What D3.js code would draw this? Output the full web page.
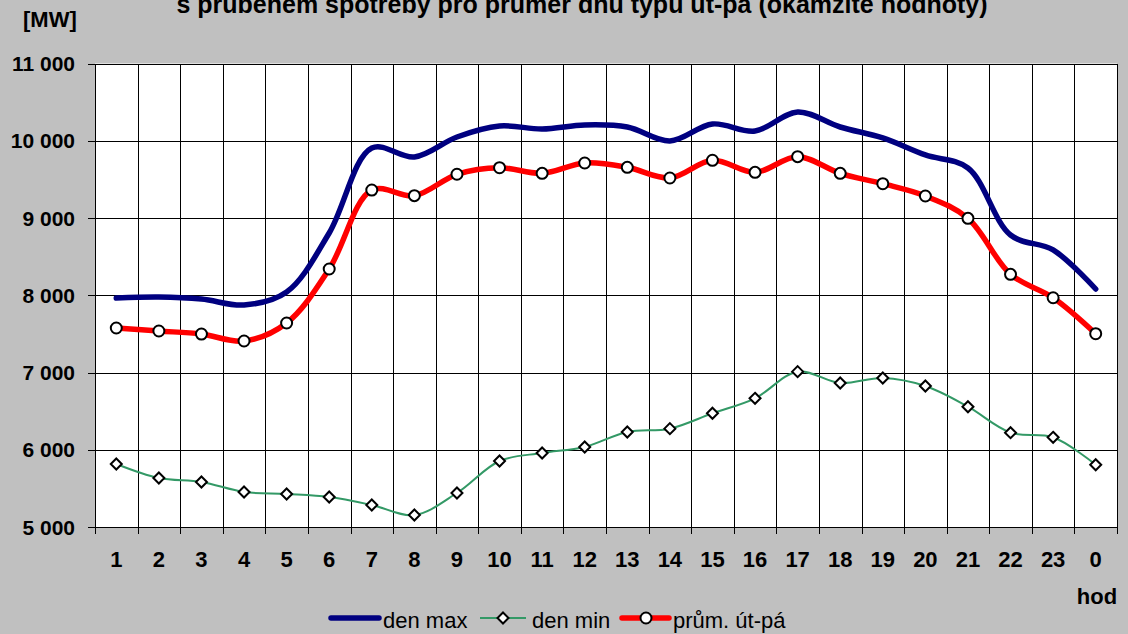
<!DOCTYPE html>
<html><head><meta charset="utf-8">
<script src="https://cdn.jsdelivr.net/npm/d3@7"></script>
<style>
html,body{margin:0;padding:0;background:#C0C0C0;}
svg{display:block;font-family:"Liberation Sans",Arial,sans-serif;}
</style></head>
<body>
<svg id="chart" width="1128" height="634"></svg>
<script>
const hours = ["1","2","3","4","5","6","7","8","9","10","11","12","13","14","15","16","17","18","19","20","21","22","23","0"];
const denMax = [7964,7977,7951,7874,8042,8806,9906,9790,10049,10191,10152,10204,10178,9997,10217,10126,10372,10178,10036,9816,9647,8780,8586,8081];
const denMin = [5816,5634,5583,5453,5427,5388,5285,5155,5440,5854,5958,6036,6230,6273,6472,6666,7011,6864,6929,6825,6557,6221,6161,5806];
const prumer = [7576,7537,7498,7408,7641,8340,9362,9289,9566,9651,9578,9712,9656,9518,9747,9591,9794,9578,9444,9285,8996,8271,7968,7502];
const yTicks = [5000,6000,7000,8000,9000,10000,11000];
const titleText = "s  průběhem spotřeby pro průměr dnů typu út-pá (okamžité hodnoty)";
const unitText = "[MW]";
const xUnitText = "hod";
const legendNames = ["den max","den min","prům. út-pá"];

const svg = d3.select("#chart");
const L = 95, R = 1117, T = 63.5, B = 527;
const x = d3.scaleBand().domain(hours).range([L, R]).padding(0);
const y = d3.scaleLinear().domain([5000, 11000]).range([B, T]);
const cx = h => x(h) + x.bandwidth() / 2;
const fmt = v => d3.format(",")(v).replace(/,/g, " ");

// plot area
svg.append("rect").attr("x", L).attr("y", T).attr("width", R - L).attr("height", B - T).attr("fill", "#fff");

// grid
const g = svg.append("g").attr("shape-rendering", "crispEdges");
g.selectAll("line.hg").data(yTicks).enter().append("line")
  .attr("x1", L).attr("x2", R).attr("y1", d => Math.round(y(d)) + 0.5).attr("y2", d => Math.round(y(d)) + 0.5)
  .attr("stroke", "#000").attr("stroke-width", 1);
g.selectAll("line.vg").data(hours.slice(1)).enter().append("line")
  .attr("x1", d => Math.round(x(d)) + 0.5).attr("x2", d => Math.round(x(d)) + 0.5)
  .attr("y1", T).attr("y2", B + 7)
  .attr("stroke", "#000").attr("stroke-width", 1);
// frame
svg.append("rect").attr("x", L + 0.5).attr("y", Math.round(T) + 0.5).attr("width", R - L).attr("height", Math.round(B) - Math.round(T))
  .attr("fill", "none").attr("stroke", "#000").attr("stroke-width", 1).attr("shape-rendering", "crispEdges");
// y ticks
g.selectAll("line.yt").data(yTicks).enter().append("line")
  .attr("x1", L - 7).attr("x2", L).attr("y1", d => Math.round(y(d)) + 0.5).attr("y2", d => Math.round(y(d)) + 0.5)
  .attr("stroke", "#000");
g.append("line").attr("x1", L + 0.5).attr("x2", L + 0.5).attr("y1", B).attr("y2", B + 7).attr("stroke", "#000");
g.append("line").attr("x1", R + 0.5).attr("x2", R + 0.5).attr("y1", B).attr("y2", B + 7).attr("stroke", "#000");

// y labels
svg.selectAll("text.yl").data(yTicks).enter().append("text")
  .attr("x", 75).attr("y", d => y(d)).attr("dy", "0.36em").attr("text-anchor", "end")
  .attr("font-size", 21).attr("font-weight", "bold").text(d => fmt(d));
// x labels
svg.selectAll("text.xl").data(hours).enter().append("text")
  .attr("x", d => cx(d)).attr("y", 567).attr("text-anchor", "middle")
  .attr("font-size", 22).attr("font-weight", "bold").text(d => d);

// texts
svg.append("text").attr("x", 582).attr("y", 13).attr("text-anchor", "middle")
  .attr("font-size", 25).attr("font-weight", "bold").text(titleText);
svg.append("text").attr("x", 23).attr("y", 27).attr("font-size", 22).attr("font-weight", "bold").text(unitText);
svg.append("text").attr("x", 1097).attr("y", 604).attr("text-anchor", "middle").attr("font-size", 22).attr("font-weight", "bold").text(xUnitText);

const curve = d3.curveCatmullRom.alpha(0.5);
const line = d3.line().x((d, i) => cx(hours[i])).y(d => y(d)).curve(curve);

svg.append("path").datum(denMin).attr("d", line).attr("fill", "none").attr("stroke", "#339966").attr("stroke-width", 2);
svg.append("path").datum(denMax).attr("d", line).attr("fill", "none").attr("stroke", "#000080").attr("stroke-width", 5.5).attr("stroke-linecap", "round");
svg.append("path").datum(prumer).attr("d", line).attr("fill", "none").attr("stroke", "#FF0000").attr("stroke-width", 5.5).attr("stroke-linecap", "round");

const diamond = s => `M0,${-s}L${s},0L0,${s}L${-s},0Z`;
svg.selectAll("path.dm").data(denMin).enter().append("path")
  .attr("d", diamond(5.5)).attr("transform", (d, i) => `translate(${cx(hours[i])},${y(d)})`)
  .attr("fill", "#fff").attr("stroke", "#000").attr("stroke-width", 2);
svg.selectAll("circle.pm").data(prumer).enter().append("circle")
  .attr("cx", (d, i) => cx(hours[i])).attr("cy", d => y(d)).attr("r", 5.5)
  .attr("fill", "#fff").attr("stroke", "#000").attr("stroke-width", 2);

// legend
const ly = 618, lt = 628;
const lg = svg.append("g");
lg.append("line").attr("x1", 331).attr("x2", 379).attr("y1", ly).attr("y2", ly).attr("stroke", "#000080").attr("stroke-width", 5.5).attr("stroke-linecap", "round");
lg.append("text").attr("x", 383).attr("y", lt).attr("font-size", 22).text(legendNames[0]);
lg.append("line").attr("x1", 480).attr("x2", 526).attr("y1", ly).attr("y2", ly).attr("stroke", "#339966").attr("stroke-width", 2);
lg.append("path").attr("d", diamond(5.5)).attr("transform", `translate(503,${ly})`).attr("fill", "#fff").attr("stroke", "#000").attr("stroke-width", 2);
lg.append("text").attr("x", 532).attr("y", lt).attr("font-size", 22).text(legendNames[1]);
lg.append("line").attr("x1", 622).attr("x2", 669).attr("y1", ly).attr("y2", ly).attr("stroke", "#FF0000").attr("stroke-width", 5.5).attr("stroke-linecap", "round");
lg.append("circle").attr("cx", 646).attr("cy", ly).attr("r", 5.5).attr("fill", "#fff").attr("stroke", "#000").attr("stroke-width", 2);
lg.append("text").attr("x", 673).attr("y", lt).attr("font-size", 22).text(legendNames[2]);
</script>
</body></html>
